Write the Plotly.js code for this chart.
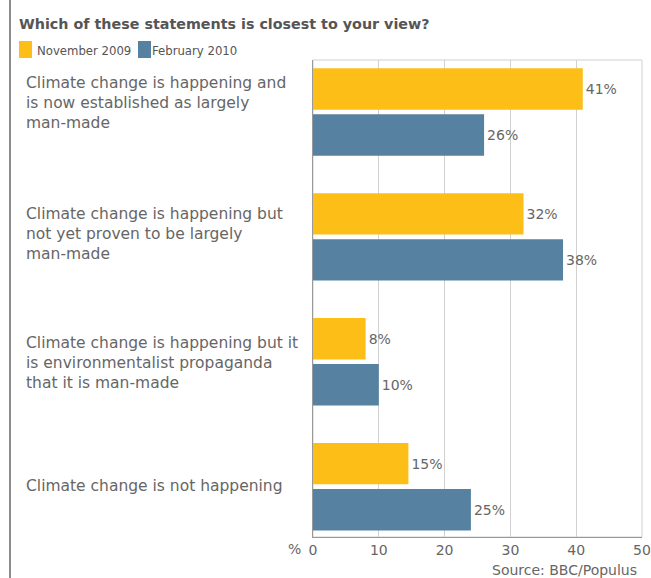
<!DOCTYPE html>
<html>
<head>
<meta charset="utf-8">
<script src="https://cdn.plot.ly/plotly-3.0.1.min.js"></script>
<style>
html,body{margin:0;padding:0;background:#fff;}
#chart{width:651px;height:578px;}
</style>
</head>
<body>
<div id="chart"></div>
<script>
const categories = [
  "Climate change is happening and<br>is now established as largely<br>man-made",
  "Climate change is happening but<br>not yet proven to be largely<br>man-made",
  "Climate change is happening but it<br>is environmentalist propaganda<br>that it is man-made",
  "Climate change is not happening"
];
const seriesNames = ["November 2009", "February 2010"];
const seriesColors = ["#FDBF17", "#5781A1"];
const nov2009 = [41, 32, 8, 14.5];
const feb2010 = [26, 38, 10, 24];
const nov2009Labels = ["41%", "32%", "8%", "15%"];
const feb2010Labels = ["26%", "38%", "10%", "25%"];
const xTicks = [0, 10, 20, 30, 40, 50];

const FONT = "DejaVu Sans, Verdana, sans-serif";
const LEGEND_FONT = "DejaVu Sans Condensed, Liberation Sans, sans-serif";
const yIdx = categories.map((c, i) => i);

// plot-area geometry in pixels (for placing text/legend outside the plot)
const L = 313, R = 642, T = 60, B = 537;
const px = x => (x - L) / (R - L);
const py = y => (B - y) / (B - T);

const traces = [
  {
    type: "bar", orientation: "h", name: seriesNames[0],
    y: yIdx, x: nov2009, text: nov2009Labels,
    textposition: "outside", cliponaxis: false,
    textfont: {family: FONT, size: 14, color: "#666"},
    marker: {color: seriesColors[0]}, hoverinfo: "none"
  },
  {
    type: "bar", orientation: "h", name: seriesNames[1],
    y: yIdx, x: feb2010, text: feb2010Labels,
    textposition: "outside", cliponaxis: false,
    textfont: {family: FONT, size: 14, color: "#666"},
    marker: {color: seriesColors[1]}, hoverinfo: "none"
  }
];

const labelShift = [9, 3, -1, 1];
const annotations = categories.map((c, i) => ({
  xref: "paper", yref: "y", x: px(24), y: i,
  xanchor: "left", yanchor: "middle", align: "left", yshift: labelShift[i],
  text: c, showarrow: false,
  font: {family: FONT, size: 15.5, color: "#666"}
}));
annotations.push({
  xref: "paper", yref: "paper", x: px(303), y: 0, yshift: -12,
  xanchor: "right", yanchor: "middle", text: "%", showarrow: false,
  font: {family: FONT, size: 14, color: "#666"}
});
annotations.push({
  xref: "paper", yref: "paper", x: 1, y: 0, yshift: -33, xshift: -3,
  xanchor: "right", yanchor: "middle", text: "Source: BBC/Populus", showarrow: false,
  font: {family: FONT, size: 14, color: "#666"}
});

// legend (drawn as swatches + text)
const legendSwatchX = [19, 138];
const legendTextX = [35, 150];
const shapes = [
  {type: "rect", xref: "paper", yref: "paper", x0: 0, x1: 1, y0: 0, y1: 1,
   line: {color: "#d0d0d0", width: 1}, layer: "below"},
  {type: "line", xref: "paper", yref: "paper", x0: px(10), x1: px(10),
   y0: -1, y1: 2, line: {color: "#666", width: 1.5}}
];
seriesNames.forEach((n, i) => {
  shapes.push({type: "rect", xref: "paper", yref: "paper",
    x0: px(legendSwatchX[i]), x1: px(legendSwatchX[i] + 13), y0: py(58), y1: py(41),
    line: {width: 0}, fillcolor: seriesColors[i]});
  annotations.push({xref: "paper", yref: "paper", x: px(legendTextX[i]), y: py(50),
    xanchor: "left", yanchor: "middle", text: n, showarrow: false,
    font: {family: LEGEND_FONT, size: 13, color: "#555"}});
});

const layout = {
  width: 651, height: 578,
  margin: {l: L, r: 651 - R, t: T, b: 578 - B, autoexpand: false},
  paper_bgcolor: "#fff", plot_bgcolor: "#fff",
  title: {
    text: "<b>Which of these statements is closest to your view?</b>",
    xref: "container", yref: "container", x: 19 / 651, xanchor: "left",
    y: 1 - 24 / 578, yanchor: "middle",
    font: {family: FONT, size: 14.3, color: "#555"}
  },
  showlegend: false,
  barmode: "group", bargap: 0.263, bargroupgap: 0.1,
  xaxis: {
    range: [0, 50], tickvals: xTicks, ticktext: xTicks.map(String),
    showgrid: true, gridcolor: "#d0d0d0", gridwidth: 1,
    showline: true, linecolor: "#999", linewidth: 1,
    zeroline: false, ticks: "", fixedrange: true,
    tickfont: {family: FONT, size: 14, color: "#666"}
  },
  yaxis: {
    range: [3.403, -0.416], showticklabels: false, showgrid: false,
    showline: true, linecolor: "#999", linewidth: 1.5, zeroline: false, ticks: ""
  },
  shapes: shapes,
  annotations: annotations
};

Plotly.newPlot("chart", traces, layout, {displayModeBar: false, staticPlot: true});
</script>
</body>
</html>
